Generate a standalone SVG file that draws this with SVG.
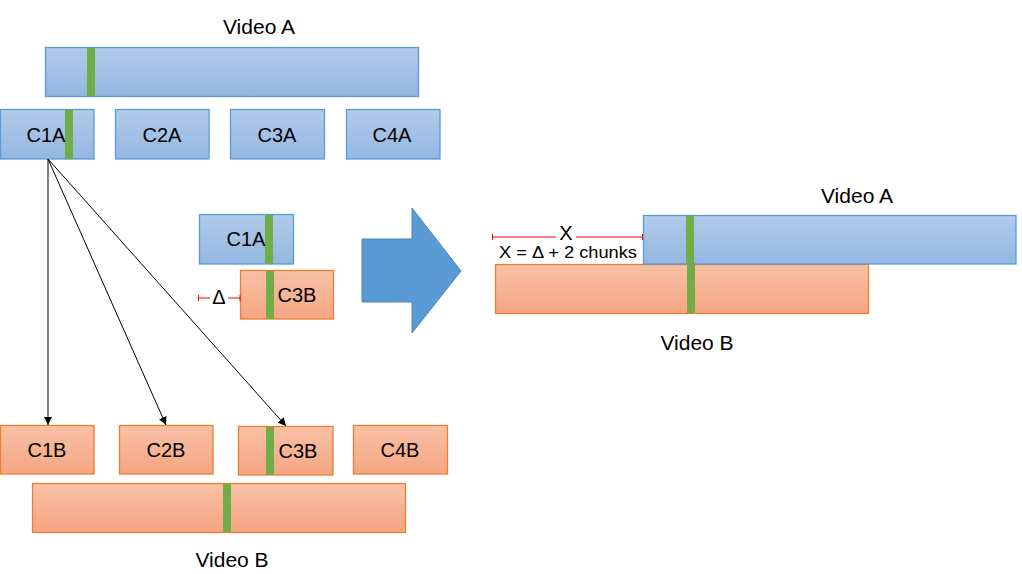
<svg xmlns="http://www.w3.org/2000/svg" width="1022" height="574" viewBox="0 0 1022 574">
<defs>
<linearGradient id="gb" x1="0" y1="0" x2="0" y2="1"><stop offset="0" stop-color="#B1CBE9"/><stop offset="1" stop-color="#93B7E2"/></linearGradient>
<linearGradient id="go" x1="0" y1="0" x2="0" y2="1"><stop offset="0" stop-color="#F8C1A6"/><stop offset="1" stop-color="#F5A582"/></linearGradient>
<marker id="ah" viewBox="0 0 10 10" refX="10" refY="5" markerWidth="8" markerHeight="8" markerUnits="userSpaceOnUse" orient="auto"><path d="M0,0 L10,5 L0,10 z" fill="#000"/></marker>
<style>
.a{fill:url(#gb);stroke:#5B9BD5;stroke-width:1.3}
.b{fill:url(#go);stroke:#ED7D31;stroke-width:1.3}
.g{fill:#70AD47}
.t{font-family:"Liberation Sans",Arial,sans-serif;font-size:20px;fill:#000;text-anchor:middle}
.v{font-size:21px}
.r{stroke:#FF0000;stroke-width:1;fill:none}
.c{stroke:#000;stroke-width:1;fill:none}
</style>
</defs>
<g id="videoA-top">
<text class="t v" x="259" y="34">Video A</text>
<rect class="a" x="45.5" y="47.5" width="373" height="49"/>
<rect class="g" x="87" y="48" width="8" height="48"/>
</g>
<g id="C1A"><rect class="a" x="0.5" y="109.5" width="93.5" height="49.5"/><rect class="g" x="65" y="110" width="8" height="49"/><text class="t" x="46" y="142">C1A</text></g>
<g id="C2A"><rect class="a" x="115.5" y="109.5" width="93.5" height="49.5"/><text class="t" x="162" y="142">C2A</text></g>
<g id="C3A"><rect class="a" x="230.5" y="109.5" width="94" height="49.5"/><text class="t" x="277" y="142">C3A</text></g>
<g id="C4A"><rect class="a" x="346.5" y="109.5" width="93.5" height="49.5"/><text class="t" x="392" y="142">C4A</text></g>
<g id="C1A-small"><rect class="a" x="199.5" y="214.5" width="94" height="49.5"/><rect class="g" x="265" y="215" width="8" height="49"/><text class="t" x="246" y="246">C1A</text></g>
<g id="C3B-small"><rect class="b" x="240.5" y="270.5" width="93" height="48.5"/><rect class="g" x="266" y="271" width="8" height="48"/><text class="t" x="297" y="302">C3B</text></g>
<g id="delta">
<path class="r" d="M198.5,295 V301 M198,298 H210 M228,298 H240 M240,295 V301"/>
<text class="t" x="219" y="304">Δ</text>
</g>
<g id="bigArrow"><path d="M362,239 H412 V208 L461,271 L412,333 V302 H362 Z" fill="#5B9BD5" stroke="#4A86BE" stroke-width="1"/></g>
<g id="C1B"><rect class="b" x="0.5" y="425.5" width="93.5" height="48.5"/><text class="t" x="47" y="457">C1B</text></g>
<g id="C2B"><rect class="b" x="119.5" y="425.5" width="93.5" height="48.5"/><text class="t" x="166" y="457">C2B</text></g>
<g id="C3B"><rect class="b" x="238.5" y="426.5" width="94.5" height="48.5"/><rect class="g" x="266" y="427" width="8" height="48"/><text class="t" x="298" y="458">C3B</text></g>
<g id="C4B"><rect class="b" x="353.5" y="425.5" width="94" height="48.5"/><text class="t" x="400" y="457">C4B</text></g>
<g id="videoB-bottom">
<rect class="b" x="32.5" y="483.5" width="373" height="49"/>
<rect class="g" x="223" y="484" width="8" height="48"/>
<text class="t v" x="232" y="567">Video B</text>
</g>
<g id="videoB-right">
<rect class="b" x="495.5" y="264.5" width="373" height="49"/>
<rect class="g" x="687" y="265" width="8" height="48"/>
<text class="t v" x="697" y="350">Video B</text>
</g>
<g id="videoA-right">
<rect class="a" x="643.5" y="215.5" width="372.5" height="48.5"/>
<rect class="g" x="686" y="216" width="8" height="48"/>
<text class="t v" x="857" y="203">Video A</text>
</g>
<g id="xmeasure">
<path class="r" d="M492.5,234 V240 M492,237 H556 M576,237 H643 M642.5,234 V240"/>
<text class="t" x="566" y="240">X</text>
<text class="t" x="568" y="258" style="font-size:17px" textLength="138" lengthAdjust="spacingAndGlyphs">X = Δ + 2 chunks</text>
</g>
<g id="connectors">
<line class="c" x1="48" y1="159" x2="48" y2="425" marker-end="url(#ah)"/>
<line class="c" x1="48" y1="159" x2="166" y2="425" marker-end="url(#ah)"/>
<line class="c" x1="48" y1="159" x2="286" y2="426" marker-end="url(#ah)"/>
</g>
</svg>
